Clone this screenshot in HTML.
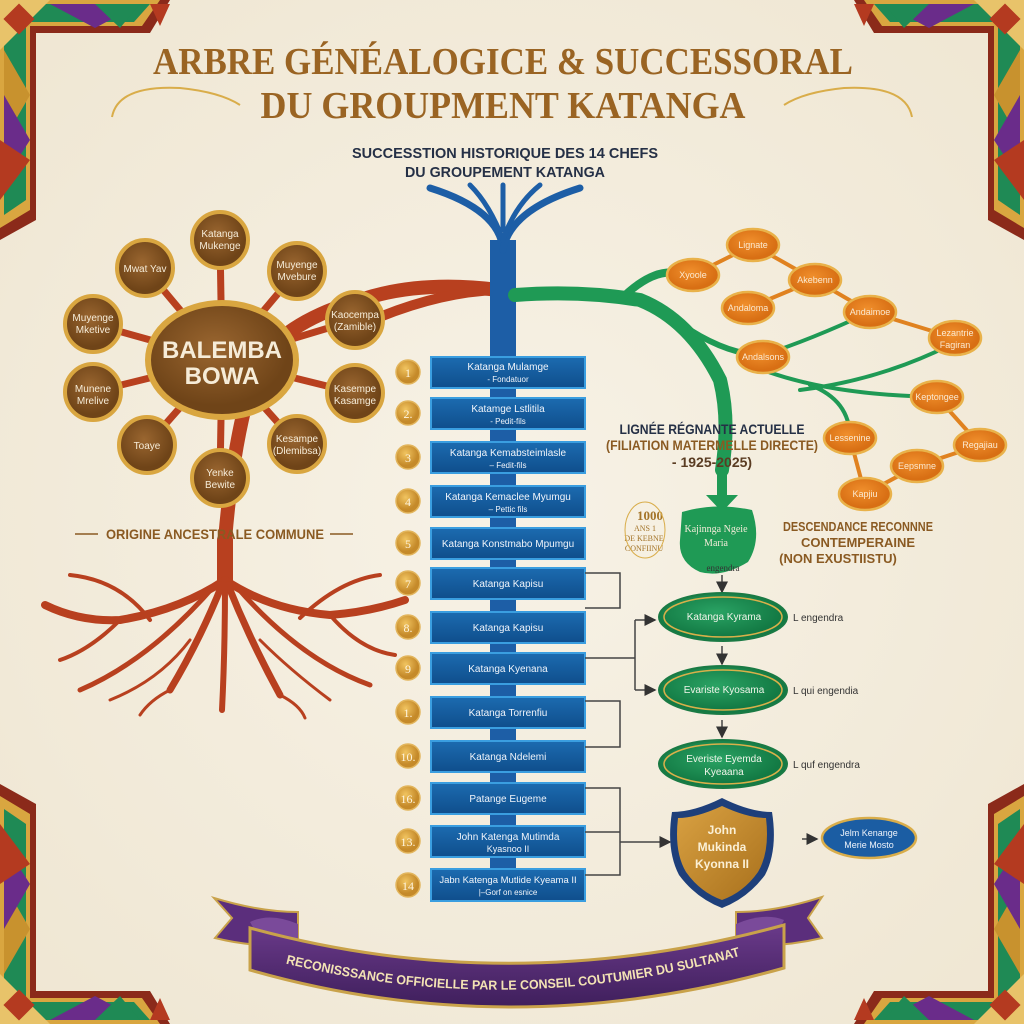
<!DOCTYPE html>
<html><head><meta charset="utf-8"><style>
html,body{margin:0;padding:0;background:#f4eedf;}
svg{display:block}
text{font-family:"Liberation Sans","DejaVu Sans",sans-serif;}
.serif{font-family:"Liberation Serif","DejaVu Serif",serif;}
</style></head><body>
<svg width="1024" height="1024" viewBox="0 0 1024 1024" xmlns="http://www.w3.org/2000/svg">
<defs>
<radialGradient id="bg" cx="50%" cy="50%" r="70%"><stop offset="0" stop-color="#f7f2e6"/><stop offset="1" stop-color="#efe6d2"/></radialGradient>
<linearGradient id="blue" x1="0" y1="0" x2="0" y2="1"><stop offset="0" stop-color="#1c6bb0"/><stop offset="1" stop-color="#0f4e8c"/></linearGradient>
<radialGradient id="brn" cx="45%" cy="40%"><stop offset="0" stop-color="#9a6630"/><stop offset="1" stop-color="#6f4418"/></radialGradient>
<radialGradient id="org" cx="45%" cy="40%"><stop offset="0" stop-color="#f08f2c"/><stop offset="1" stop-color="#d86f14"/></radialGradient>
<radialGradient id="grn" cx="45%" cy="40%"><stop offset="0" stop-color="#2aa364"/><stop offset="1" stop-color="#137a44"/></radialGradient>
<radialGradient id="gold" cx="40%" cy="35%"><stop offset="0" stop-color="#f1c460"/><stop offset="1" stop-color="#c58a2a"/></radialGradient>
<linearGradient id="shield" x1="0" y1="0" x2="1" y2="1"><stop offset="0" stop-color="#d9a142"/><stop offset="1" stop-color="#a8701c"/></linearGradient>
<linearGradient id="purp" x1="0" y1="0" x2="0" y2="1"><stop offset="0" stop-color="#6a3a8a"/><stop offset="1" stop-color="#3f1f5c"/></linearGradient>
<path id="banarc" d="M276 961 Q512 1022 750 953"/>
<marker id="ah" markerWidth="8" markerHeight="8" refX="7" refY="4" orient="auto"><path d="M0 0 L8 4 L0 8 Z" fill="#333"/></marker>
<g id="corner">
 <path d="M0 0 H170 L150 33 H36 V220 L0 240 Z" fill="#8b2a1a"/>
 <path d="M0 0 H160 L142 26 H30 V210 L0 228 Z" fill="#d9a640"/>
 <path d="M4 4 H150 L134 22 H26 V200 L4 215 Z" fill="#1f8a55"/>
 <path d="M50 4 L95 28 L140 4 Z" fill="#6a2c8a"/>
 <path d="M95 4 L120 28 L140 4 Z" fill="#1f8a55"/>
 <path d="M4 50 L30 95 L4 140 Z" fill="#c8922e"/>
 <path d="M4 95 L30 140 L4 180 Z" fill="#6a2c8a"/>
 <path d="M0 0 L50 0 L0 50 Z" fill="#e8c36a"/>
 <rect x="8" y="8" width="22" height="22" transform="rotate(45 19 19)" fill="#b43a20"/>
 <path d="M0 140 L30 160 L0 200Z" fill="#b43a20"/>
 <path d="M150 4 L170 4 L160 26 Z" fill="#b43a20"/>
</g>
</defs>
<rect width="1024" height="1024" fill="url(#bg)"/>

<use href="#corner"/>
<use href="#corner" transform="translate(1024 0) scale(-1 1)"/>
<use href="#corner" transform="translate(0 1024) scale(1 -1)"/>
<use href="#corner" transform="translate(1024 1024) scale(-1 -1)"/>

<text x="503" y="74" text-anchor="middle" font-size="38" font-weight="bold" fill="#9a6423" style="font-family:'Liberation Serif',serif" textLength="700" lengthAdjust="spacingAndGlyphs">ARBRE GÉNÉALOGICE &amp; SUCCESSORAL</text>
<text x="503" y="118" text-anchor="middle" font-size="38" font-weight="bold" fill="#9a6423" style="font-family:'Liberation Serif',serif" textLength="485" lengthAdjust="spacingAndGlyphs">DU GROUPMENT KATANGA</text>
<path d="M112 117 Q118 85 180 88 Q220 92 240 105" stroke="#d9ad4a" stroke-width="2" fill="none"/>
<path d="M912 117 Q906 85 844 88 Q804 92 784 105" stroke="#d9ad4a" stroke-width="2" fill="none"/>
<text x="505" y="158" text-anchor="middle" font-size="15" font-weight="bold" fill="#253046" textLength="306" lengthAdjust="spacingAndGlyphs">SUCCESSTION HISTORIQUE DES 14 CHEFS</text>
<text x="505" y="177" text-anchor="middle" font-size="15" font-weight="bold" fill="#253046" textLength="200" lengthAdjust="spacingAndGlyphs">DU GROUPEMENT KATANGA</text>

<path d="M498 290 Q420 280 360 300 Q290 320 260 360 Q235 420 225 540" stroke="#b8401f" stroke-width="14" fill="none"/>
<path d="M498 290 Q430 292 350 330" stroke="#b8401f" stroke-width="10" fill="none"/>
<g stroke="#b8401f" fill="none" stroke-linecap="round">
<path d="M225 540 L225 580" stroke-width="16"/>
<path d="M225 580 Q180 610 120 620 Q80 622 45 605" stroke-width="8"/>
<path d="M225 580 Q270 610 330 615 Q370 612 405 600" stroke-width="8"/>
<path d="M222 585 Q200 640 170 690" stroke-width="7"/>
<path d="M228 585 Q250 640 280 695" stroke-width="7"/>
<path d="M225 585 Q225 650 222 710" stroke-width="6"/>
<path d="M215 585 Q150 660 80 690" stroke-width="5"/>
<path d="M235 585 Q300 660 370 685" stroke-width="5"/>
<path d="M120 620 Q90 650 60 660" stroke-width="4"/>
<path d="M330 615 Q360 650 395 655" stroke-width="4"/>
<path d="M170 690 Q150 700 140 715" stroke-width="3"/>
<path d="M280 695 Q300 705 305 718" stroke-width="3"/>
<path d="M150 620 Q120 580 70 575" stroke-width="4"/>
<path d="M300 618 Q340 580 380 575" stroke-width="4"/>
<path d="M190 640 Q160 680 110 700" stroke-width="3"/>
<path d="M260 640 Q290 670 330 700" stroke-width="3"/>
</g>

<g stroke="#1d5ea6" fill="none" stroke-linecap="round">
<path d="M503 240 L503 895" stroke-width="26" stroke-linecap="butt"/>
<path d="M503 250 Q500 210 430 188" stroke-width="7"/>
<path d="M503 250 Q510 210 580 188" stroke-width="7"/>
<path d="M503 240 Q490 205 470 185" stroke-width="5"/>
<path d="M503 240 Q515 205 540 185" stroke-width="5"/>
<path d="M503 230 L503 185" stroke-width="5"/>
</g>

<g stroke="#1f9a55" fill="none" stroke-linecap="round">
<path d="M515 295 Q580 290 640 300 Q690 320 720 380 Q730 420 722 470" stroke-width="14"/>
<path d="M620 300 Q660 260 690 278" stroke-width="8"/>
<path d="M690 330 Q730 355 763 355" stroke-width="6"/>
<path d="M763 355 Q810 340 870 312" stroke-width="4"/>
<path d="M763 370 Q830 395 937 397" stroke-width="4"/>
<path d="M800 390 Q880 380 950 345" stroke-width="4"/>
<path d="M810 385 Q850 400 850 438" stroke-width="4"/>
</g>
<g stroke="#e08220" stroke-width="4" fill="none">
<path d="M693 275 L753 245 L815 280 L870 312 L955 338"/>
<path d="M748 308 L815 280"/>
<path d="M937 397 L980 445 L917 466 L865 494 L850 438"/>
</g>

<g stroke="#b8401f" stroke-width="7">
<line x1="222" y1="360" x2="220" y2="240"/><line x1="222" y1="360" x2="145" y2="268"/>
<line x1="222" y1="360" x2="297" y2="271"/><line x1="222" y1="360" x2="93" y2="324"/>
<line x1="222" y1="360" x2="355" y2="320"/><line x1="222" y1="360" x2="93" y2="392"/>
<line x1="222" y1="360" x2="355" y2="393"/><line x1="222" y1="360" x2="147" y2="445"/>
<line x1="222" y1="360" x2="297" y2="444"/><line x1="222" y1="360" x2="220" y2="478"/>
</g>
<g stroke="#d9a640" stroke-width="4" fill="url(#brn)">
<circle cx="220" cy="240" r="28"/><circle cx="145" cy="268" r="28"/><circle cx="297" cy="271" r="28"/>
<circle cx="93" cy="324" r="28"/><circle cx="355" cy="320" r="28"/><circle cx="93" cy="392" r="28"/>
<circle cx="355" cy="393" r="28"/><circle cx="147" cy="445" r="28"/><circle cx="297" cy="444" r="28"/>
<circle cx="220" cy="478" r="28"/>
<ellipse cx="222" cy="360" rx="74" ry="57" stroke-width="6"/>
</g>
<g fill="#f6ecd8" font-size="10" text-anchor="middle">
<text x="220" y="237">Katanga</text><text x="220" y="249">Mukenge</text>
<text x="145" y="272">Mwat Yav</text>
<text x="297" y="268">Muyenge</text><text x="297" y="280">Mvebure</text>
<text x="93" y="321">Muyenge</text><text x="93" y="333">Mketive</text>
<text x="355" y="318">Kaocempa</text><text x="355" y="330">(Zamible)</text>
<text x="93" y="392">Munene</text><text x="93" y="404">Mrelive</text>
<text x="355" y="392">Kasempe</text><text x="355" y="404">Kasamge</text>
<text x="147" y="449">Toaye</text>
<text x="297" y="442">Kesampe</text><text x="297" y="454">(Dlemibsa)</text>
<text x="220" y="476">Yenke</text><text x="220" y="488">Bewite</text>
<text x="222" y="358" font-size="24" font-weight="bold">BALEMBA</text>
<text x="222" y="384" font-size="24" font-weight="bold">BOWA</text>
</g>
<text x="215" y="539" text-anchor="middle" font-size="14" font-weight="bold" fill="#8a5a22" textLength="218" lengthAdjust="spacingAndGlyphs">ORIGINE ANCESTRALE COMMUNE</text>
<line x1="75" y1="534" x2="98" y2="534" stroke="#8a5a22" stroke-width="1.5"/>
<line x1="330" y1="534" x2="353" y2="534" stroke="#8a5a22" stroke-width="1.5"/>

<g fill="url(#org)" stroke="#e9b24a" stroke-width="2.5">
<ellipse cx="753" cy="245" rx="26" ry="16"/><ellipse cx="693" cy="275" rx="26" ry="16"/>
<ellipse cx="815" cy="280" rx="26" ry="16"/><ellipse cx="748" cy="308" rx="26" ry="16"/>
<ellipse cx="870" cy="312" rx="26" ry="16"/><ellipse cx="955" cy="338" rx="26" ry="17"/>
<ellipse cx="763" cy="357" rx="26" ry="16"/><ellipse cx="937" cy="397" rx="26" ry="16"/>
<ellipse cx="850" cy="438" rx="26" ry="16"/><ellipse cx="980" cy="445" rx="26" ry="16"/>
<ellipse cx="917" cy="466" rx="26" ry="16"/><ellipse cx="865" cy="494" rx="26" ry="16"/>
</g>
<g fill="#fbe9d0" font-size="9" text-anchor="middle">
<text x="753" y="248">Lignate</text><text x="693" y="278">Xyoole</text><text x="815" y="283">Akebenn</text>
<text x="748" y="311">Andaloma</text><text x="870" y="315">Andaimoe</text><text x="955" y="336">Lezantrie</text><text x="955" y="348">Fagiran</text>
<text x="763" y="360">Andalsons</text><text x="937" y="400">Keptongee</text><text x="850" y="441">Lessenine</text>
<text x="980" y="448">Regajiau</text><text x="917" y="469">Eepsmne</text><text x="865" y="497">Kapjiu</text>
</g>

<text x="712" y="434" text-anchor="middle" font-size="14" font-weight="bold" fill="#253046" textLength="185" lengthAdjust="spacingAndGlyphs">LIGNÉE RÉGNANTE ACTUELLE</text>
<text x="712" y="450" text-anchor="middle" font-size="14" font-weight="bold" fill="#8a5a22" textLength="212" lengthAdjust="spacingAndGlyphs">(FILIATION MATERMELLE DIRECTE)</text>
<text x="712" y="467" text-anchor="middle" font-size="14" font-weight="bold" fill="#5a3c22">- 1925-2025)</text>
<path d="M717 475 H727 V495 H738 L722 512 L706 495 H717 Z" fill="#1f9a55"/>
<path d="M682 512 Q715 502 752 510 Q762 540 748 562 Q722 578 700 572 Q678 562 680 540 Z" fill="#1f9a55"/>
<text x="716" y="532" text-anchor="middle" font-size="10" fill="#f2ebd8" class="serif" style="font-family:'Liberation Serif',serif">Kajinnga Ngeie</text>
<text x="716" y="546" text-anchor="middle" font-size="10" fill="#f2ebd8" style="font-family:'Liberation Serif',serif">Maria</text>
<text x="723" y="571" text-anchor="middle" font-size="9" fill="#333" style="font-family:'Liberation Serif',serif">engendra</text>
<g text-anchor="middle" fill="#a47428" style="font-family:'Liberation Serif',serif">
<text x="650" y="520" font-size="13" font-weight="bold" style="font-family:'Liberation Serif',serif">1000</text>
<text x="645" y="531" font-size="8" style="font-family:'Liberation Serif',serif">ANS 1</text><text x="644" y="541" font-size="8" style="font-family:'Liberation Serif',serif">DE KEBNE</text><text x="644" y="551" font-size="8" style="font-family:'Liberation Serif',serif">CONFIINU</text>
</g>
<ellipse cx="645" cy="530" rx="20" ry="28" fill="none" stroke="#d9ad4a" stroke-width="1"/>
<text x="858" y="531" text-anchor="middle" font-size="13" font-weight="bold" fill="#8a5a22" textLength="150" lengthAdjust="spacingAndGlyphs">DESCENDANCE RECONNNE</text>
<text x="858" y="547" text-anchor="middle" font-size="13" font-weight="bold" fill="#8a5a22">CONTEMPERAINE</text>
<text x="838" y="563" text-anchor="middle" font-size="13" font-weight="bold" fill="#8a5a22">(NON EXUSTIISTU)</text>

<g>
<g fill="url(#blue)" stroke="#3a9ee0" stroke-width="2">
<rect x="431" y="357" width="154" height="31"/><rect x="431" y="398" width="154" height="31"/>
<rect x="431" y="442" width="154" height="31"/><rect x="431" y="486" width="154" height="31"/>
<rect x="431" y="528" width="154" height="31"/><rect x="431" y="568" width="154" height="31"/>
<rect x="431" y="612" width="154" height="31"/><rect x="431" y="653" width="154" height="31"/>
<rect x="431" y="697" width="154" height="31"/><rect x="431" y="741" width="154" height="31"/>
<rect x="431" y="783" width="154" height="31"/><rect x="431" y="826" width="154" height="31"/>
<rect x="431" y="869" width="154" height="32"/>
</g>
<g fill="#f0f4fa" font-size="10" text-anchor="middle">
<text x="508" y="370">Katanga Mulamge</text><text x="508" y="382" font-size="8">- Fondatuor</text>
<text x="508" y="412">Katamge Lstlitila</text><text x="508" y="424" font-size="8">- Pedit-fils</text>
<text x="508" y="456">Katanga Kemabsteimlasle</text><text x="508" y="468" font-size="8">– Fedit-fils</text>
<text x="508" y="500">Katanga Kemaclee Myumgu</text><text x="508" y="512" font-size="8">– Pettic fils</text>
<text x="508" y="547">Katanga Konstmabo Mpumgu</text>
<text x="508" y="587">Katanga Kapisu</text>
<text x="508" y="631">Katanga Kapisu</text>
<text x="508" y="672">Katanga Kyenana</text>
<text x="508" y="716">Katanga Torrenfiu</text>
<text x="508" y="760">Katanga Ndelemi</text>
<text x="508" y="802">Patange Eugeme</text>
<text x="508" y="840">John Katenga Mutimda</text><text x="508" y="852" font-size="9">Kyasnoo II</text>
<text x="508" y="883" font-size="9.5">Jabn Katenga Mutlide Kyeama II</text><text x="508" y="895" font-size="8">|–Gorf on esnice</text>
</g>
<g fill="url(#gold)" stroke="#e2b55c" stroke-width="1.5">
<circle cx="408" cy="372" r="12"/><circle cx="408" cy="413" r="12"/><circle cx="408" cy="457" r="12"/>
<circle cx="408" cy="501" r="12"/><circle cx="408" cy="543" r="12"/><circle cx="408" cy="583" r="12"/>
<circle cx="408" cy="627" r="12"/><circle cx="408" cy="668" r="12"/><circle cx="408" cy="712" r="12"/>
<circle cx="408" cy="756" r="12"/><circle cx="408" cy="798" r="12"/><circle cx="408" cy="841" r="12"/>
<circle cx="408" cy="885" r="12"/>
</g>
<g fill="#fff5de" font-size="12" text-anchor="middle">
<text x="408" y="377" style="font-family:'Liberation Serif',serif">1</text><text x="408" y="418" style="font-family:'Liberation Serif',serif">2.</text><text x="408" y="462" style="font-family:'Liberation Serif',serif">3</text><text x="408" y="506" style="font-family:'Liberation Serif',serif">4</text>
<text x="408" y="548" style="font-family:'Liberation Serif',serif">5</text><text x="408" y="588" style="font-family:'Liberation Serif',serif">7</text><text x="408" y="632" style="font-family:'Liberation Serif',serif">8.</text><text x="408" y="673" style="font-family:'Liberation Serif',serif">9</text>
<text x="408" y="717" style="font-family:'Liberation Serif',serif">1.</text><text x="408" y="761" style="font-family:'Liberation Serif',serif">10.</text><text x="408" y="803" style="font-family:'Liberation Serif',serif">16.</text><text x="408" y="846" style="font-family:'Liberation Serif',serif">13.</text>
<text x="408" y="890" style="font-family:'Liberation Serif',serif">14</text>
</g>
</g>

<g stroke="#444" stroke-width="1.5" fill="none">
<path d="M585 573 H620 V608 H585"/>
<path d="M585 658 H635"/>
<path d="M635 620 V690"/>
<path d="M635 620 H655" marker-end="url(#ah)"/>
<path d="M635 690 H655" marker-end="url(#ah)"/>
<path d="M585 701 H620 V747 H585"/>
<path d="M585 788 H620 V875 H585"/>
<path d="M585 832 H620"/>
<path d="M620 842 H670" marker-end="url(#ah)"/>
<path d="M722 575 V592" marker-end="url(#ah)"/>
<path d="M722 646 V664" marker-end="url(#ah)"/>
<path d="M722 720 V737" marker-end="url(#ah)"/>
<path d="M802 839 H817" marker-end="url(#ah)"/>
</g>

<g fill="url(#grn)" stroke="#1a7a44" stroke-width="2">
<ellipse cx="723" cy="617" rx="64" ry="24"/><ellipse cx="723" cy="690" rx="64" ry="24"/><ellipse cx="723" cy="764" rx="64" ry="24"/>
</g>
<g fill="none" stroke="#d9b04a" stroke-width="1.5">
<ellipse cx="723" cy="617" rx="59" ry="20"/><ellipse cx="723" cy="690" rx="59" ry="20"/><ellipse cx="723" cy="764" rx="59" ry="20"/>
</g>
<g fill="#f1f5ea" font-size="10" text-anchor="middle">
<text x="724" y="620">Katanga Kyrama</text>
<text x="724" y="693">Evariste Kyosama</text>
<text x="724" y="762">Everiste Eyemda</text><text x="724" y="775">Kyeaana</text>
</g>
<g fill="#333" font-size="10">
<text x="793" y="621">L engendra</text><text x="793" y="694">L qui engendia</text><text x="793" y="768">L quf engendra</text>
</g>

<path d="M722 798 Q750 812 772 812 Q778 850 765 875 Q748 898 722 908 Q696 898 679 875 Q666 850 672 812 Q694 812 722 798 Z" fill="#1e3f7a"/>
<path d="M722 806 Q748 818 766 818 Q770 852 758 872 Q744 892 722 900 Q700 892 686 872 Q674 852 678 818 Q696 818 722 806 Z" fill="url(#shield)"/>
<g fill="#fbf0d6" font-size="12" font-weight="bold" text-anchor="middle">
<text x="722" y="834" style="font-family:'Liberation Sans Narrow','Liberation Sans',sans-serif">John</text><text x="722" y="851" style="font-family:'Liberation Sans Narrow','Liberation Sans',sans-serif">Mukinda</text><text x="722" y="868" style="font-family:'Liberation Sans Narrow','Liberation Sans',sans-serif">Kyonna II</text>
</g>
<ellipse cx="869" cy="838" rx="47" ry="20" fill="#1b5da3" stroke="#d9ad4a" stroke-width="2.5"/>
<text x="869" y="836" text-anchor="middle" font-size="9" fill="#eef3fa">Jelm Kenange</text>
<text x="869" y="848" text-anchor="middle" font-size="9" fill="#eef3fa">Merie Mosto</text>

<path d="M214 898 Q260 912 298 912 L298 945 Q255 948 215 938 L232 918 Z" fill="#5b2e7c" stroke="#c9a24a" stroke-width="2"/>
<path d="M822 897 Q776 912 736 912 L736 945 Q780 948 822 938 L808 918 Z" fill="#5b2e7c" stroke="#c9a24a" stroke-width="2"/>
<path d="M250 922 Q270 912 298 924 L298 945 L260 940 Z" fill="#7a4a9a"/>
<path d="M784 920 Q764 912 736 924 L736 945 L774 940 Z" fill="#7a4a9a"/>
<path d="M250 928 Q512 1000 784 925 L784 968 Q512 1045 250 970 Z" fill="url(#purp)" stroke="#c9a24a" stroke-width="3"/>
<text font-size="13" font-weight="bold" fill="#f3e3b4" text-anchor="middle"><textPath href="#banarc" startOffset="50%" textLength="460" lengthAdjust="spacingAndGlyphs">RECONISSSANCE OFFICIELLE PAR LE CONSEIL COUTUMIER DU SULTANAT</textPath></text>
</svg>
</body></html>
